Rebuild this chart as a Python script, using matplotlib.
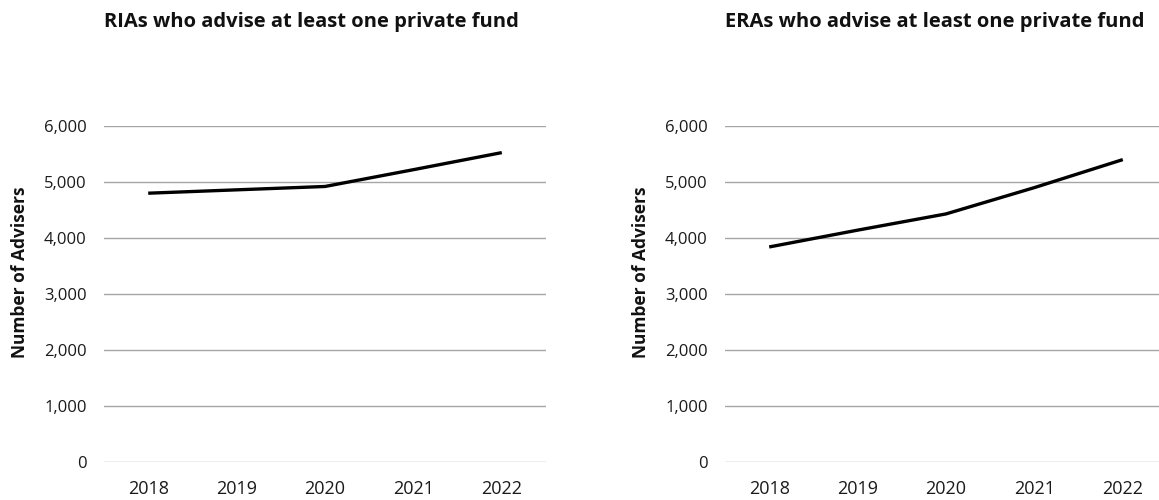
import matplotlib
matplotlib.use("Agg")
import matplotlib.pyplot as plt
from matplotlib.ticker import FuncFormatter

years = ["2018", "2019", "2020", "2021", "2022"]
ria_values = [4800, 4860, 4920, 5220, 5525]
era_values = [3840, 4140, 4430, 4900, 5400]
titles = ["RIAs who advise at least one private fund",
          "ERAs who advise at least one private fund"]
ylabel = "Number of Advisers"
yticks = [0, 1000, 2000, 3000, 4000, 5000, 6000]

plt.rcParams['font.family'] = ['Open Sans', 'DejaVu Sans']

fig = plt.figure(figsize=(11.59, 5.0), dpi=100)
positions = [[104/1159, 38/500, 442/1159, 336/500],
             [725/1159, 38/500, 442/1159, 336/500]]

for pos, vals, title in zip(positions, [ria_values, era_values], titles):
    ax = fig.add_axes(pos)
    x = list(range(len(years)))
    ax.plot(x, vals, color='black', lw=2.4, solid_joinstyle='round',
            solid_capstyle='butt', zorder=3)
    ax.set_xlim(-0.5, len(years) - 0.5)
    ax.set_ylim(0, 6000)
    ax.set_yticks(yticks)
    ax.yaxis.set_major_formatter(FuncFormatter(lambda v, p: f"{int(v):,}"))
    ax.set_xticks(x)
    ax.set_xticklabels(years)
    ax.grid(axis='y', color='#a6a6a6', lw=1.0)
    ax.set_axisbelow(True)
    for s in ax.spines.values():
        s.set_visible(False)
    ax.tick_params(axis='both', length=0, labelsize=12, colors='#1a1a1a')
    ax.tick_params(axis='y', pad=12.5)
    ax.tick_params(axis='x', pad=13)
    for lab in ax.get_xticklabels():
        lab.set_fontsize(13)
    ax.set_ylabel(ylabel, fontsize=12.5, fontweight='bold', color='#111111')
    ax.yaxis.set_label_coords(-75/442, 0.565)
    ax.text(0.0, 1.0 + 104/336, title, transform=ax.transAxes, ha='left',
            va='center', fontsize=14.5, fontweight='bold', color='#111111')

fig.savefig("out.png", dpi=100, facecolor='white')
